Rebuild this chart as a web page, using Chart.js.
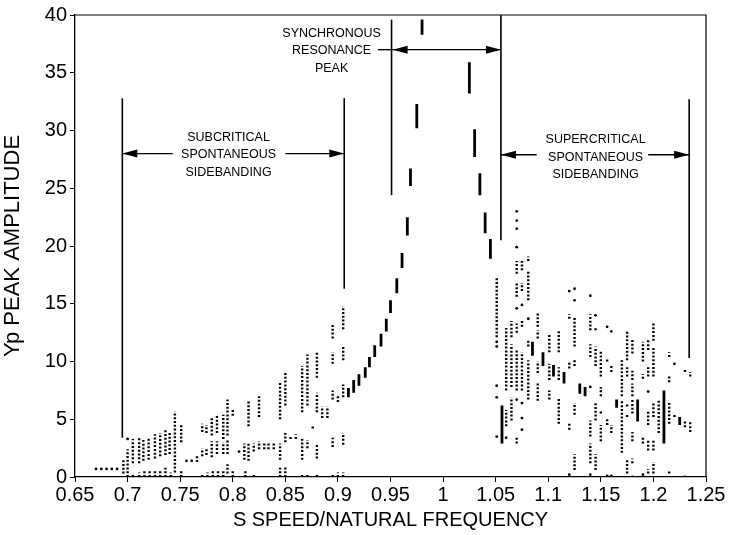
<!DOCTYPE html>
<html>
<head>
<meta charset="utf-8">
<script src="https://cdn.jsdelivr.net/npm/chart.js@4.4.1/dist/chart.umd.min.js"></script>
<style>
  html, body { margin: 0; padding: 0; background: #fff; }
  #wrap { width: 733px; height: 535px; }
</style>
</head>
<body>
<div id="wrap"><canvas id="chart"></canvas></div>
<script>
// axis ticks
const xTicks = [0.65, 0.7, 0.75, 0.8, 0.85, 0.9, 0.95, 1, 1.05, 1.1, 1.15, 1.2, 1.25];
const yTicks = [0, 5, 10, 15, 20, 25, 30, 35, 40];

// solid vertical streaks [x, yLow, yHigh] (resonance peak and dense runs)
const solidRuns = [
  [0.910, 6.9, 7.7], [0.915, 7.3, 8.4], [0.920, 7.9, 8.9], [0.926, 8.6, 9.5],
  [0.930, 9.5, 10.4], [0.935, 10.4, 11.4], [0.941, 11.3, 12.4], [0.946, 12.6, 13.7],
  [0.950, 14.2, 15.3], [0.956, 15.9, 17.2], [0.961, 18.1, 19.4], [0.966, 20.9, 22.5],
  [0.969, 25.2, 26.7], [0.975, 30.2, 32.3], [0.980, 38.3, 39.6],
  [1.025, 33.2, 35.9], [1.030, 27.7, 30.1], [1.035, 24.4, 26.3], [1.040, 21.1, 22.9],
  [1.045, 18.9, 20.6], [1.056, 2.9, 6.2],
  [1.085, 10.5, 11.7], [1.095, 9.6, 10.8], [1.105, 8.7, 9.7], [1.115, 8.1, 9.1],
  [1.130, 7.2, 8.1], [1.135, 7.0, 7.8], [1.165, 6.0, 6.7], [1.185, 4.8, 6.7],
  [1.210, 2.9, 7.5], [1.225, 4.5, 5.2]
];

// dotted vertical runs [x, yLow, yHigh]
const dottedRuns = [
  [0.696, 0.3, 1.6], [0.700, 0.0, 2.4], [0.705, 1.2, 3.3], [0.711, 1.2, 3.5],
  [0.715, 1.4, 3.2], [0.720, 1.5, 3.4], [0.726, 1.6, 3.7], [0.731, 1.8, 3.8],
  [0.736, 1.9, 4.2], [0.740, 2.0, 3.8], [0.745, 0.4, 5.7], [0.751, 3.0, 4.6],
  [0.705, 0, 0.3], [0.711, 0, 0.4], [0.716, 0, 0.5], [0.721, 0, 0.5], [0.726, 0, 0.5],
  [0.731, 0, 0.6], [0.736, 0, 0.8], [0.741, 0, 0.4], [0.751, 0, 0.6],
  [0.766, 1.3, 1.9], [0.771, 3.9, 4.6], [0.771, 1.8, 2.5], [0.775, 3.8, 4.5], [0.775, 1.9, 2.5],
  [0.780, 3.6, 5.2], [0.780, 1.7, 3.1], [0.785, 3.8, 5.4], [0.785, 2.0, 3.1],
  [0.791, 3.3, 5.4], [0.791, 2.0, 3.0], [0.795, 3.6, 6.7], [0.795, 2.0, 3.2], [0.800, 5.3, 5.8],
  [0.771, 0, 0.3], [0.776, 0, 0.4], [0.781, 0, 0.5], [0.786, 0, 0.6], [0.791, 0, 0.6],
  [0.795, 0.3, 1.1], [0.800, 0, 0.5],
  [0.811, 1.5, 2.9], [0.815, 4.4, 6.7], [0.815, 1.4, 2.9], [0.820, 2.2, 2.9],
  [0.825, 5.2, 7.0], [0.825, 2.4, 3.1], [0.830, 2.4, 2.9], [0.834, 2.4, 2.9], [0.839, 2.4, 3.0],
  [0.845, 5.0, 8.3], [0.845, 1.5, 2.9], [0.850, 6.2, 9.0], [0.850, 3.0, 3.8],
  [0.855, 3.3, 3.6], [0.860, 3.3, 3.7], [0.866, 5.6, 9.6], [0.866, 1.5, 3.4],
  [0.871, 6.2, 10.6], [0.871, 2.5, 3.2], [0.876, 4.2, 4.5],
  [0.880, 8.6, 10.9], [0.880, 5.6, 7.3], [0.880, 1.6, 2.9], [0.885, 5.1, 6.1], [0.890, 5.1, 6.1],
  [0.895, 12.0, 13.2], [0.895, 9.8, 10.8], [0.895, 6.7, 7.5], [0.895, 2.6, 3.4], [0.900, 6.5, 7.0],
  [0.905, 12.8, 14.8], [0.905, 10.1, 11.3], [0.905, 6.9, 8.0], [0.905, 2.8, 3.8],
  [0.812, 0, 0.5], [0.820, 0, 0.3], [0.845, 0, 0.8], [0.850, 0, 1.0], [0.866, 0, 0.3],
  [0.871, 0, 0.3], [0.880, 0, 0.3], [0.895, 0, 0.3], [0.900, 0, 0.4], [0.905, 0, 0.4],
  [1.051, 12.1, 17.3], [1.060, 7.5, 12.9], [1.060, 4.4, 5.8],
  [1.065, 12.1, 13.5], [1.065, 7.8, 11.5], [1.065, 4.9, 6.9],
  [1.070, 17.6, 18.7], [1.070, 15.6, 16.8], [1.070, 12.5, 13.3], [1.070, 7.5, 11.1], [1.070, 2.9, 3.5],
  [1.075, 17.9, 18.7], [1.075, 16.1, 16.8], [1.075, 13.0, 13.6], [1.075, 7.5, 10.8],
  [1.081, 18.7, 19.1], [1.081, 15.3, 17.9], [1.081, 11.3, 11.8], [1.081, 6.7, 10.1],
  [1.090, 13.0, 14.3], [1.090, 12.0, 12.7], [1.090, 9.0, 10.0], [1.090, 6.6, 8.1],
  [1.101, 10.8, 12.4], [1.101, 8.4, 9.8], [1.101, 6.7, 7.5],
  [1.110, 10.8, 12.7], [1.110, 8.4, 9.5], [1.110, 4.6, 6.8],
  [1.120, 13.7, 14.1], [1.120, 9.4, 10.0], [1.120, 4.1, 4.6],
  [1.125, 11.3, 13.9], [1.125, 9.6, 10.1], [1.125, 5.4, 6.4], [1.125, 0.6, 2.0],
  [1.140, 12.7, 14.1], [1.140, 10.4, 11.5], [1.140, 3.5, 4.9], [1.140, 1.2, 2.9],
  [1.145, 12.7, 13.0], [1.145, 9.6, 11.3], [1.145, 4.9, 6.4], [1.145, 0.6, 2.0],
  [1.150, 8.7, 11.0], [1.150, 7.0, 7.8], [1.150, 5.5, 5.8], [1.150, 3.1, 4.5],
  [1.156, 10.0, 10.3], [1.156, 4.5, 5.1], [1.160, 9.1, 9.7], [1.160, 3.8, 4.5],
  [1.170, 7.0, 10.1], [1.170, 2.1, 6.7],
  [1.175, 10.1, 12.7], [1.175, 8.7, 9.5], [1.175, 6.1, 6.4], [1.175, 5.2, 5.5], [1.175, 0.3, 1.5],
  [1.180, 10.7, 12.0], [1.180, 8.4, 9.2], [1.180, 7.0, 8.1], [1.180, 5.5, 6.7], [1.180, 3.1, 3.9], [1.180, 1.2, 1.6],
  [1.190, 10.0, 11.7], [1.190, 8.5, 8.9], [1.190, 2.9, 3.5],
  [1.195, 11.0, 12.0], [1.195, 8.7, 9.5], [1.195, 4.5, 5.7], [1.195, 2.3, 3.3], [1.195, 0.3, 0.7],
  [1.200, 11.8, 13.4], [1.200, 8.7, 11.3], [1.200, 5.2, 6.4], [1.200, 2.3, 3.2], [1.200, 0.3, 1.3],
  [1.205, 3.8, 6.7], [1.215, 10.4, 10.8], [1.215, 8.2, 8.7], [1.215, 4.6, 6.4], [1.215, 0.3, 0.6],
  [1.220, 5.2, 5.5], [1.230, 9.1, 9.4], [1.230, 4.3, 4.9], [1.235, 8.7, 9.1], [1.235, 3.9, 4.8]
];

// isolated dots [x, y]
const singleDots = [
  [0.670, 0.7], [0.675, 0.7], [0.680, 0.7], [0.685, 0.7], [0.690, 0.7], [0.700, 3.3],
  [0.756, 1.4], [0.761, 1.4], [0.806, 2.2],
  [1.051, 11.7], [1.051, 11.3], [1.051, 7.9], [1.051, 6.9], [1.051, 3.5], [1.060, 3.4],
  [1.070, 23.0], [1.070, 22.2], [1.070, 21.5], [1.070, 19.9], [1.070, 14.6], [1.070, 6.7],
  [1.075, 14.9], [1.075, 6.4], [1.075, 5.1], [1.075, 4.1], [1.081, 13.7],
  [1.120, 16.1], [1.120, 0.2], [1.125, 16.3], [1.125, 15.3],
  [1.140, 15.7], [1.140, 7.8], [1.140, 0.2], [1.145, 14.0],
  [1.156, 13.0], [1.156, 0.1], [1.160, 12.6], [1.160, 0.1],
  [1.180, 0.0], [1.190, 0.2], [1.195, 7.4], [1.220, 9.8], [1.230, 0.0]
];

// region boundaries [x, yBottom, yTop]
const boundaries = [
  [0.695, 3.4, 32.8], [0.906, 16.3, 32.8], [0.951, 24.4, 39.6], [1.055, 20.5, 40], [1.234, 10.3, 32.7]
];
// arrows [y, xStart, xTip]
const arrows = [
  [28.0, 0.743, 0.695], [28.0, 0.850, 0.906],
  [37.0, 1.0, 0.952], [37.0, 1.0, 1.055], [37.0, 0.938, 0.952, 'noHead'],
  [27.9, 1.089, 1.055], [27.9, 1.195, 1.234]
];
// region labels
const labelText = [
  ['SUBCRITICAL', 'SPONTANEOUS', 'SIDEBANDING'],
  ['SYNCHRONOUS', 'RESONANCE', 'PEAK'],
  ['SUPERCRITICAL', 'SPONTANEOUS', 'SIDEBANDING']
];
const labelX = [0.796, 0.894, 1.145];
const labelY = [27.9, 36.9, 27.7];

function toSegments(runs) {
  const out = [];
  runs.forEach(r => {
    out.push({x: r[0], y: r[1]}, {x: r[0], y: r[2]}, {x: r[0], y: null});
  });
  return out;
}

const annotate = {
  id: 'annotate',
  afterDatasetsDraw(chart) {
    const ctx = chart.ctx;
    const xs = chart.scales.x, ys = chart.scales.y;
    const a = chart.chartArea;
    ctx.save();
    // frame
    ctx.strokeStyle = '#000';
    ctx.lineWidth = 1.2;
    ctx.beginPath();
    ctx.moveTo(a.left, a.top); ctx.lineTo(a.right, a.top); ctx.lineTo(a.right, a.bottom);
    ctx.stroke();
    // boundaries
    ctx.lineWidth = 1.6;
    boundaries.forEach(b => {
      const px = xs.getPixelForValue(b[0]);
      ctx.beginPath();
      ctx.moveTo(px, ys.getPixelForValue(b[1]));
      ctx.lineTo(px, ys.getPixelForValue(b[2]));
      ctx.stroke();
    });
    // arrows
    ctx.fillStyle = '#000';
    arrows.forEach(ar => {
      const py = ys.getPixelForValue(ar[0]);
      const x0 = xs.getPixelForValue(ar[1]);
      const x1 = xs.getPixelForValue(ar[2]);
      ctx.lineWidth = 1.4;
      ctx.beginPath(); ctx.moveTo(x0, py); ctx.lineTo(x1, py); ctx.stroke();
      if (ar[3] !== 'noHead') {
        const d = x1 > x0 ? 1 : -1;
        ctx.beginPath();
        ctx.moveTo(x1, py);
        ctx.lineTo(x1 - d * 15, py - 4);
        ctx.lineTo(x1 - d * 15, py + 4);
        ctx.closePath();
        ctx.fill();
      }
    });
    // labels
    ctx.font = '12.5px "Liberation Sans", Arial, sans-serif';
    ctx.textAlign = 'center';
    ctx.textBaseline = 'middle';
    labelText.forEach((lines, i) => {
      const cx = xs.getPixelForValue(labelX[i]);
      const cy = ys.getPixelForValue(labelY[i]);
      lines.forEach((t, j) => ctx.fillText(t, cx, cy + (j - 1) * 17.5));
    });
    ctx.restore();
  }
};

const tickFont = {family: '"Liberation Sans", Arial, sans-serif', size: 20};

new Chart(document.getElementById('chart'), {
  type: 'scatter',
  data: {
    datasets: [
      {
        data: toSegments(solidRuns), showLine: true, spanGaps: false,
        borderColor: '#000', borderWidth: 2.8, pointRadius: 0, borderCapStyle: 'butt'
      },
      {
        data: toSegments(dottedRuns), showLine: true, spanGaps: false,
        borderColor: '#000', borderWidth: 2.4, borderDash: [2, 1.8], pointRadius: 0
      },
      {
        data: singleDots.map(d => ({x: d[0], y: d[1]})),
        showLine: false, pointRadius: 1.4, pointBorderWidth: 0,
        backgroundColor: '#000', borderColor: '#000'
      }
    ]
  },
  options: {
    responsive: true,
    maintainAspectRatio: false,
    animation: false,
    layout: {padding: {left: 0, top: 14, right: 27, bottom: 0}},
    plugins: {legend: {display: false}, tooltip: {enabled: false}},
    scales: {
      x: {
        type: 'linear', min: 0.65, max: 1.25,
        afterBuildTicks: s => { s.ticks = xTicks.map(v => ({value: v})); },
        afterFit: s => { s.height = 58; },
        ticks: {color: '#000', font: tickFont, padding: 1, maxRotation: 0, autoSkip: false,
          callback: v => String(v)},
        grid: {display: true, drawOnChartArea: false, drawTicks: true, tickLength: 5, color: '#000'},
        border: {display: true, color: '#000', width: 1.3},
        title: {display: true, text: 'S SPEED/NATURAL FREQUENCY', color: '#000', font: tickFont,
          padding: {top: 0, bottom: 3}}
      },
      y: {
        type: 'linear', min: 0, max: 40,
        afterBuildTicks: s => { s.ticks = yTicks.map(v => ({value: v})); },
        afterFit: s => { s.width = 75; },
        ticks: {color: '#000', font: tickFont, padding: 3},
        grid: {display: true, drawOnChartArea: false, drawTicks: true, tickLength: 5, color: '#000'},
        border: {display: true, color: '#000', width: 1.3},
        title: {display: true, text: 'Yp PEAK AMPLITUDE', color: '#000',
          font: {family: '"Liberation Sans", Arial, sans-serif', size: 22},
          padding: {top: 0, bottom: 0}}
      }
    }
  },
  plugins: [annotate]
});
</script>
</body>
</html>
